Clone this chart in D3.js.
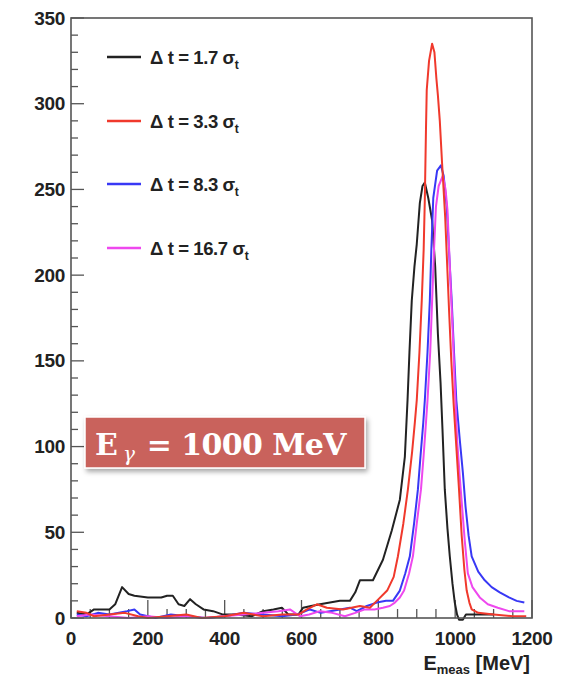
<!DOCTYPE html>
<html><head><meta charset="utf-8">
<script src="https://cdn.jsdelivr.net/npm/d3@7"></script>
<style>body{margin:0;background:#fff}svg{display:block}</style>
</head><body>
<svg id="c" width="564" height="676"></svg>
<script>
// ---- data ----
const xTicks = [0, 200, 400, 600, 800, 1000, 1200];
const yTicks = [0, 50, 100, 150, 200, 250, 300, 350];
const seriesNames = ["1.7", "3.3", "8.3", "16.7"];
const seriesColors = ["#222222", "#f0392c", "#3838f5", "#ee48ee"];

const blackE = [15,40,60,100,115,133,150,165,200,235,250,265,280,295,310,325,345,370,396,430,470,500,527,549,566,592,604,625,648,674,700,726,740,752,786,812,835,856,869,876,881,887,894,900,908,915,921,930,940,948,955,962,967,973,980,986,993,999,1005,1010,1020,1028,1060,1100];
const blackV = [3,2,5,5,8,18,14,13,12,12,13,13,8,7,11,8,5,4,2,2,1,4,5,6,2,2,6,7,8,9,10,10,15,22,22,34,51,69,94,127,155,185,205,218,242,252,254,245,232,205,166,137,110,75,52,36,20,9,2,-1,-1,2,2,2];

const redE = [15,40,60,100,140,175,200,250,300,340,400,450,500,550,592,614,640,666,708,752,778,796,823,840,851,865,877,888,895,900,907,913,918,921,924,926,932,940,946,951,955,960,966,974,984,990,996,1003,1010,1017,1024,1030,1037,1043,1060,1100,1150,1185];
const redV = [4,3,1,2,3,1,0,1,2,0,1,3,1,2,2,5,8,6,5,7,6,10,16,24,36,55,75,97,114,127,155,185,215,244,285,308,325,335,330,315,305,290,265,234,180,150,125,100,75,48,28,16,9,5,3,2,1,1];

const blueE = [15,40,70,100,146,165,180,220,260,300,350,400,450,500,550,588,622,650,674,726,744,770,796,820,838,856,870,882,893,903,910,917,921,928,934,938,943,953,963,970,978,985,991,997,1003,1012,1020,1027,1035,1043,1060,1077,1095,1116,1140,1160,1180];
const blueV = [2,1,3,2,4,5,2,0,2,1,0,1,3,2,1,2,5,3,4,6,4,7,9,10,10,16,26,36,55,75,95,114,127,155,185,215,245,261,264,258,240,210,185,155,127,104,85,65,48,36,27,22,18,15,12,10,9];

const magE = [15,50,100,150,200,250,300,350,400,450,500,540,570,596,620,648,680,713,740,765,790,812,830,843,856,867,880,890,900,911,918,924,928,935,940,945,950,957,968,975,980,988,994,1000,1005,1012,1018,1025,1033,1045,1064,1085,1111,1140,1180];
const magV = [1,2,1,0,1,0,1,0,1,2,3,4,5,1,2,4,3,1,3,5,5,6,7,9,12,16,26,36,55,75,95,114,127,155,185,215,240,252,258,250,238,195,165,130,104,82,65,45,26,18,12,8,6,4,4];

// ---- layout ----
const svg = d3.select("#c");
const L = 71, R = 532, T = 18, B = 618;
const x = d3.scaleLinear().domain([0, 1200]).range([L, R]);
const y = d3.scaleLinear().domain([0, 350]).range([B, T]);

const defs = svg.append("defs");
const f = defs.append("filter").attr("id","sh").attr("x","-10%").attr("y","-20%").attr("width","125%").attr("height","150%");
f.append("feDropShadow").attr("dx",2).attr("dy",3).attr("stdDeviation",2.5).attr("flood-color","#000").attr("flood-opacity",0.35);

// ticks
const frameCol = "#555";
const minorY = d3.range(0, 351, 10).filter(v => v % 50 !== 0);
const minorX = d3.range(0, 1201, 50).filter(v => v % 200 !== 0);
const gT = svg.append("g").attr("stroke", frameCol).attr("stroke-width", 1.3);
gT.selectAll(".ym").data(yTicks).join("line").attr("x1", L).attr("x2", L + 13).attr("y1", d => y(d)).attr("y2", d => y(d));
gT.selectAll(".yn").data(minorY).join("line").attr("x1", L).attr("x2", L + 7).attr("y1", d => y(d)).attr("y2", d => y(d));
gT.selectAll(".xm").data(xTicks).join("line").attr("x1", d => x(d)).attr("x2", d => x(d)).attr("y1", B).attr("y2", B - 18);
gT.selectAll(".xn").data(minorX).join("line").attr("x1", d => x(d)).attr("x2", d => x(d)).attr("y1", B).attr("y2", B - 9);

// curves
const line = d3.line().x(d => x(d[0])).y(d => y(d[1]));
const series = [[blackE, blackV], [redE, redV], [blueE, blueV], [magE, magV]];
const order = [0, 2, 3, 1];
order.forEach(i => {
  const [E, V] = series[i];
  svg.append("path").datum(E.map((e, k) => [e, V[k]]))
    .attr("d", line).attr("fill", "none")
    .attr("stroke", seriesColors[i]).attr("stroke-width", 2)
    .attr("stroke-linejoin", "round");
});

// frame
svg.append("rect").attr("x", L).attr("y", T).attr("width", R - L).attr("height", B - T)
  .attr("fill", "none").attr("stroke", frameCol).attr("stroke-width", 1.6);

// tick labels
const font = "Liberation Sans, Arial, sans-serif";
svg.selectAll(".yl").data(yTicks).join("text")
  .attr("x", L - 6).attr("y", d => y(d) + 6.5).attr("text-anchor", "end")
  .attr("font-family", font).attr("font-weight", "bold").attr("font-size", 19)
  .attr("fill", "#222").attr("letter-spacing", -0.3).text(d => d);
svg.selectAll(".xl").data(xTicks).join("text")
  .attr("x", d => x(d)).attr("y", 645).attr("text-anchor", "middle")
  .attr("font-family", font).attr("font-weight", "bold").attr("font-size", 19)
  .attr("fill", "#222").attr("letter-spacing", -0.3).text(d => d);

// x title
const xt = svg.append("text").attr("x", 530).attr("y", 670).attr("text-anchor", "end")
  .attr("font-family", font).attr("font-weight", "bold").attr("font-size", 20).attr("fill", "#222");
xt.append("tspan").text("E");
xt.append("tspan").attr("font-size", 13).attr("dy", 4).text("meas");
xt.append("tspan").attr("dy", -4).text(" [MeV]");

// legend
const legY = [57, 121, 184, 248];
seriesNames.forEach((n, i) => {
  svg.append("line").attr("x1", 107).attr("x2", 141).attr("y1", legY[i]).attr("y2", legY[i])
    .attr("stroke", seriesColors[i]).attr("stroke-width", 2.5);
  const t = svg.append("text").attr("x", 150).attr("y", legY[i] + 6.5)
    .attr("font-family", font).attr("font-weight", "bold").attr("font-size", 18.5).attr("fill", "#222")
    .attr("letter-spacing", -0.4);
  t.append("tspan").text("\u0394 t = " + n + " \u03c3");
  t.append("tspan").attr("font-size", 12).attr("dy", 5).text("t");
});

// energy box
svg.append("rect").attr("x", 85).attr("y", 417).attr("width", 280).attr("height", 51)
  .attr("fill", "#c9625b").attr("stroke", "#fff").attr("stroke-width", 1.5).attr("filter", "url(#sh)");
const bt = svg.append("text").attr("x", 95).attr("y", 455)
  .attr("font-family", "DejaVu Serif, serif").attr("font-weight", "bold").attr("font-size", 30).attr("fill", "#fff");
bt.append("tspan").text("E");
bt.append("tspan").attr("font-size", 20).attr("font-style", "italic").attr("font-weight", "normal").attr("dx", 5).attr("dy", 6).text("\u03b3");
bt.append("tspan").attr("dy", -6).attr("dx", 12).attr("letter-spacing", -0.6).text("= 1000 MeV");
</script>
</body></html>
